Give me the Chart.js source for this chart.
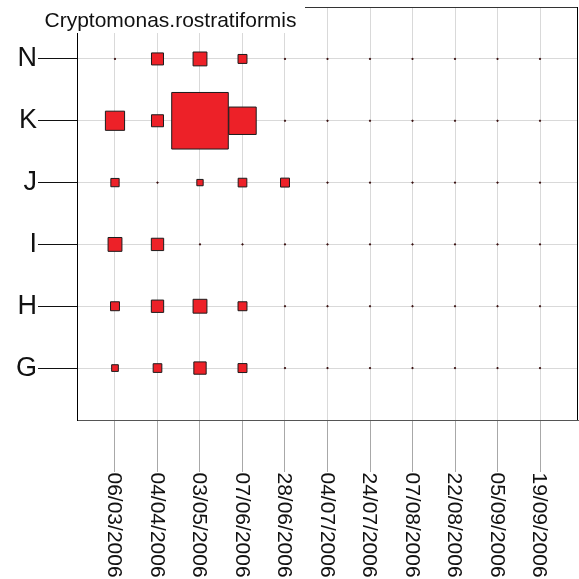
<!DOCTYPE html>
<html>
<head>
<meta charset="utf-8">
<style>
  html, body { margin: 0; padding: 0; background: #fff; }
  #wrap { width: 579px; height: 579px; }
</style>
<script src="https://cdn.jsdelivr.net/npm/chart.js@4/dist/chart.umd.min.js"></script>
</head>
<body>
<div id="wrap"><canvas id="c" width="579" height="579"></canvas></div>
<script>
// Sampling dates along the x axis
const dates = ['06/03/2006', '04/04/2006', '03/05/2006', '07/06/2006', '28/06/2006',
  '04/07/2006', '24/07/2006', '07/08/2006', '22/08/2006', '05/09/2006', '19/09/2006'];

// Stations along the y axis, bottom to top
const stations = ['G', 'H', 'I', 'J', 'K', 'N'];

// Abundance per station, one value per sampling date
const valuesG = [2.8, 4.7, 9.5, 5, 0, 0, 0, 0, 0, 0, 0];
const valuesH = [5, 9.5, 12, 5, 0, 0, 0, 0, 0, 0, 0];
const valuesI = [12, 9.5, 0, 0, 0, 0, 0, 0, 0, 0, 0];
const valuesJ = [4.3, 0, 2.5, 4.7, 5, 0, 0, 0, 0, 0, 0];
const valuesK = [23, 9, 200, 47, 0, 0, 0, 0, 0, 0, 0];
const valuesN = [0, 9, 12, 5, 0, 0, 0, 0, 0, 0, 0];

const title = 'Cryptomonas.rostratiformis';

const rows = [valuesG, valuesH, valuesI, valuesJ, valuesK, valuesN];
const FONT = "'Liberation Sans', Arial, Helvetica, sans-serif";
const SIDE_PER_SQRT = 4; // square side (px) per sqrt(abundance)

function squareRadius(v) {
  // Chart.js 'rect' point style draws a square of side radius * sqrt(2)
  if (v <= 0) return 0.8;
  return (SIDE_PER_SQRT * Math.sqrt(v)) / Math.SQRT2;
}

const datasets = rows.map((vals, j) => ({
  label: stations[j],
  data: vals.map((v, i) => ({ x: i, y: j, r: squareRadius(v), v: v })),
  pointStyle: 'rect',
  backgroundColor: vals.map(v => v > 0 ? '#ED2128' : '#3a1212'),
  borderColor: vals.map(v => v > 0 ? '#1c1c1c' : '#3a1212'),
  borderWidth: 1
}));

function noScalePadding(s) {
  s.paddingTop = 0;
  s.paddingBottom = 0;
  s.paddingLeft = 0;
  s.paddingRight = 0;
}

const framePlugin = {
  id: 'frameAndLabels',
  afterDraw(chart) {
    const { ctx, chartArea: a, scales: { x } } = chart;
    ctx.save();
    // top and right sides of the plot frame
    ctx.lineWidth = 1;
    ctx.strokeStyle = '#333';
    ctx.beginPath();
    ctx.moveTo(a.left, Math.round(a.top) + 0.5);
    ctx.lineTo(a.right, Math.round(a.top) + 0.5);
    ctx.stroke();
    ctx.strokeStyle = '#000';
    ctx.beginPath();
    ctx.moveTo(Math.round(a.right) - 0.5, a.top);
    ctx.lineTo(Math.round(a.right) - 0.5, a.bottom);
    ctx.stroke();

    // title panel sitting over the top-left corner
    ctx.fillStyle = '#fff';
    ctx.fillRect(36, 0, 269, 33);
    ctx.fillStyle = '#111';
    ctx.font = '21px ' + FONT;
    ctx.textAlign = 'center';
    ctx.textBaseline = 'alphabetic';
    ctx.fillText(title, 170.5, 27);

    // date labels, reading top to bottom
    ctx.font = '21px ' + FONT;
    ctx.fillStyle = '#111';
    ctx.textAlign = 'left';
    ctx.textBaseline = 'middle';
    dates.forEach((d, i) => {
      const px = x.getPixelForValue(i);
      ctx.save();
      ctx.translate(px - 1, 472.5);
      ctx.rotate(Math.PI / 2);
      ctx.fillText(d, 0, 0);
      ctx.restore();
    });
    ctx.restore();
  }
};

new Chart(document.getElementById('c'), {
  type: 'bubble',
  data: { datasets },
  options: {
    responsive: false,
    animation: false,
    events: [],
    layout: { autoPadding: false, padding: { top: 7, right: 1, left: 0, bottom: 0 } },
    plugins: {
      legend: { display: false },
      tooltip: { enabled: false },
      title: { display: false }
    },
    scales: {
      x: {
        type: 'linear',
        min: -0.894,
        max: 10.894,
        afterBuildTicks: s => { s.ticks = dates.map((_, i) => ({ value: i })); },
        afterFit: s => { s.height = 159; noScalePadding(s); },
        ticks: { display: false },
        grid: { color: '#d9d9d9', lineWidth: 1, tickColor: '#a8a8a8', tickLength: 52, drawTicks: true },
        border: { display: true, color: '#555', width: 1 }
      },
      y: {
        type: 'linear',
        min: -0.84,
        max: 5.84,
        afterBuildTicks: s => { s.ticks = stations.map((_, i) => ({ value: i })); },
        afterFit: s => { s.width = 77; noScalePadding(s); },
        ticks: {
          callback: v => stations[v],
          color: '#111',
          font: { family: FONT, size: 27 },
          padding: 1
        },
        grid: { color: '#d9d9d9', lineWidth: 1, tickColor: '#111', tickLength: 39, drawTicks: true },
        border: { display: true, color: '#000', width: 1 }
      }
    }
  },
  plugins: [framePlugin]
});
</script>
</body>
</html>
